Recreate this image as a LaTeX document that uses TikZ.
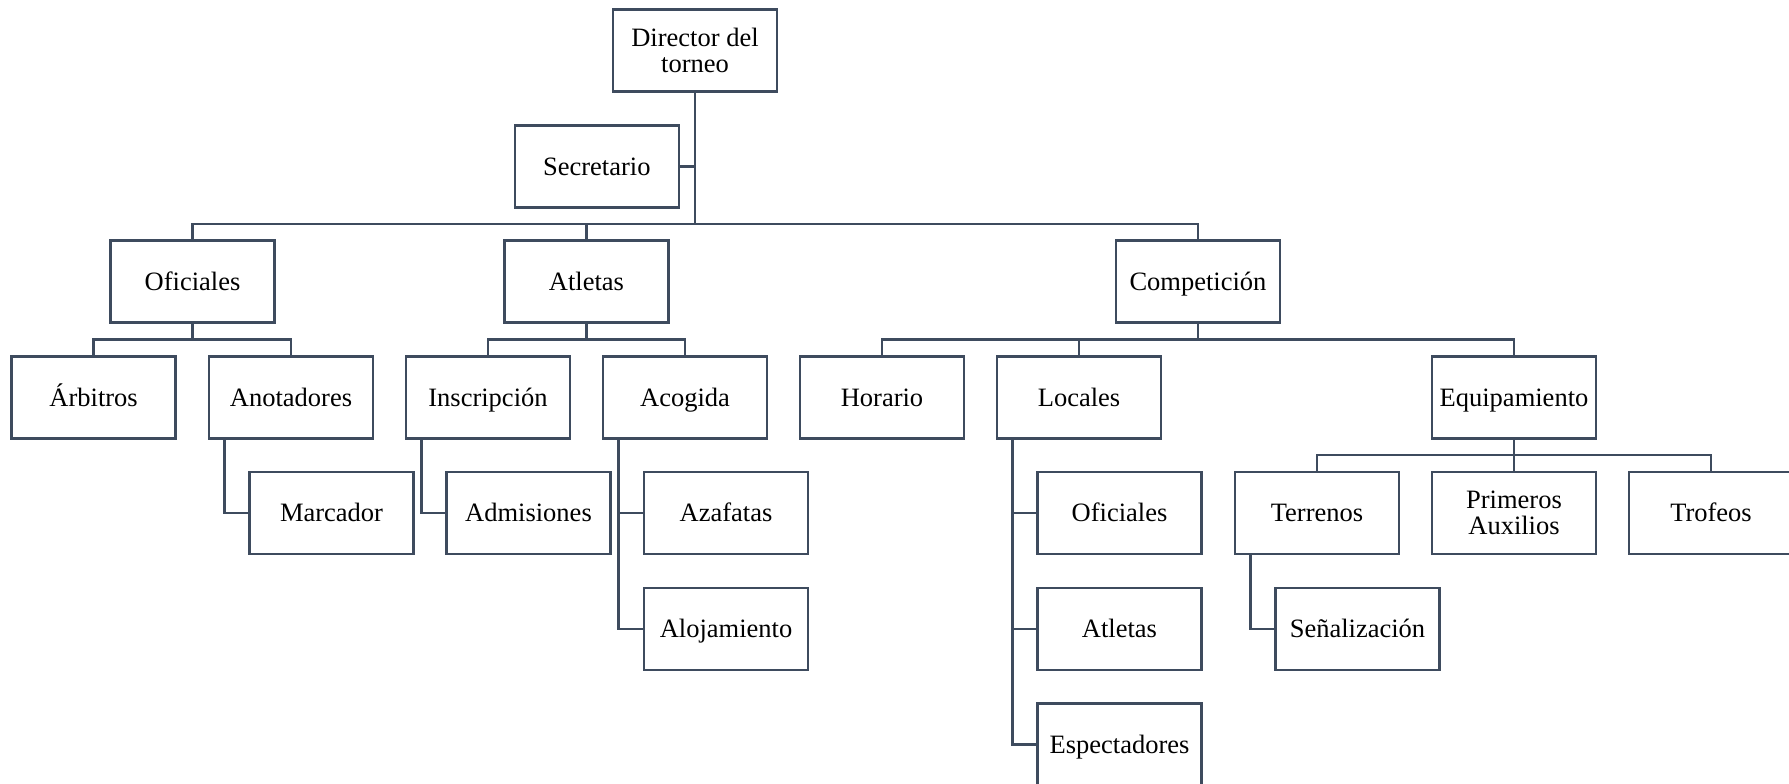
\documentclass[tikz,border=0pt]{standalone}
\usepackage{fontspec}
\setmainfont{Liberation Serif}
\definecolor{ln}{HTML}{3E4B5E}
\begin{document}
\begin{tikzpicture}[x=1pt,y=-1pt,
  boxbase/.style={draw=ln,line width=2.6pt,fill=white,minimum width=164pt,minimum height=82pt,inner sep=0pt,align=center,
    font=\fontsize{26.5}{26.5}\selectfont},
  box/.style={boxbase,text height=21pt,text depth=3.4pt},
  box2/.style={boxbase},
  conn/.style={draw=ln,line width=2.6pt}]
\clip (0,0) rectangle (1789,784);
\fill[white] (0,0) rectangle (1789,784);
% bus levels
\coordinate (b0) at (0,224);
\coordinate (b1) at (0,339.3);
\coordinate (b2) at (0,455);
% nodes
\node[box2] (dir) at (695,50.5) {Director del\\torneo};
\node[box] (sec) at (596.8,166.3) {Secretario};
\node[box] (ofi) at (192.5,281.7) {Oficiales};
\node[box] (atl) at (586.5,281.7) {Atletas};
\node[box] (com) at (1198,281.7) {Competición};
\node[box] (arb) at (93.6,397.2) {Árbitros};
\node[box] (ano) at (291,397.2) {Anotadores};
\node[box] (ins) at (488,397.2) {Inscripción};
\node[box] (aco) at (685,397.2) {Acogida};
\node[box] (hor) at (882,397.2) {Horario};
\node[box] (loc) at (1079,397.2) {Locales};
\node[box] (equ) at (1514,397.2) {Equipamiento};
\node[box] (mar) at (331.5,513) {Marcador};
\node[box] (adm) at (528.5,513) {Admisiones};
\node[box] (aza) at (726,513) {Azafatas};
\node[box] (alo) at (726,629) {Alojamiento};
\node[box] (lof) at (1119.5,513) {Oficiales};
\node[box] (lat) at (1119.5,629) {Atletas};
\node[box] (les) at (1119.5,744.5) {Espectadores};
\node[box] (ter) at (1317,513) {Terrenos};
\node[box2] (pri) at (1514,513) {Primeros\\Auxilios};
\node[box] (tro) at (1711,513) {Trofeos};
\node[box] (sen) at (1357.5,629) {Señalización};
% connectors
\draw[conn] (dir.south) -- (dir |- b0);
\draw[conn] (sec.east) -- (sec.east -| dir);
\draw[conn] (ofi.north) -- (ofi |- b0) -- (com |- b0) -- (com.north);
\draw[conn] (atl.north) -- (atl |- b0);
% level 2
\draw[conn] (ofi.south) -- (ofi |- b1);
\draw[conn] (arb.north) -- (arb |- b1) -- (ano |- b1) -- (ano.north);
\draw[conn] (atl.south) -- (atl |- b1);
\draw[conn] (ins.north) -- (ins |- b1) -- (aco |- b1) -- (aco.north);
\draw[conn] (com.south) -- (com |- b1);
\draw[conn] (hor.north) -- (hor |- b1) -- (equ |- b1) -- (equ.north);
\draw[conn] (loc.north) -- (loc |- b1);
% equipamiento
\draw[conn] (equ.south) -- (equ |- b2);
\draw[conn] (ter.north) -- (ter |- b2) -- (tro |- b2) -- (tro.north);
\draw[conn] (pri.north) -- (pri |- b2);
% side connectors
\draw[conn] ([xshift=17pt]ano.south west) |- (mar.west);
\draw[conn] ([xshift=17pt]ins.south west) |- (adm.west);
\draw[conn] ([xshift=17pt]aco.south west) |- (alo.west);
\draw[conn] ([xshift=17pt]aco.south west |- aza.west) -- (aza.west);
\draw[conn] ([xshift=17pt]loc.south west) |- (les.west);
\draw[conn] ([xshift=17pt]loc.south west |- lof.west) -- (lof.west);
\draw[conn] ([xshift=17pt]loc.south west |- lat.west) -- (lat.west);
\draw[conn] ([xshift=17pt]ter.south west) |- (sen.west);
\end{tikzpicture}
\end{document}
